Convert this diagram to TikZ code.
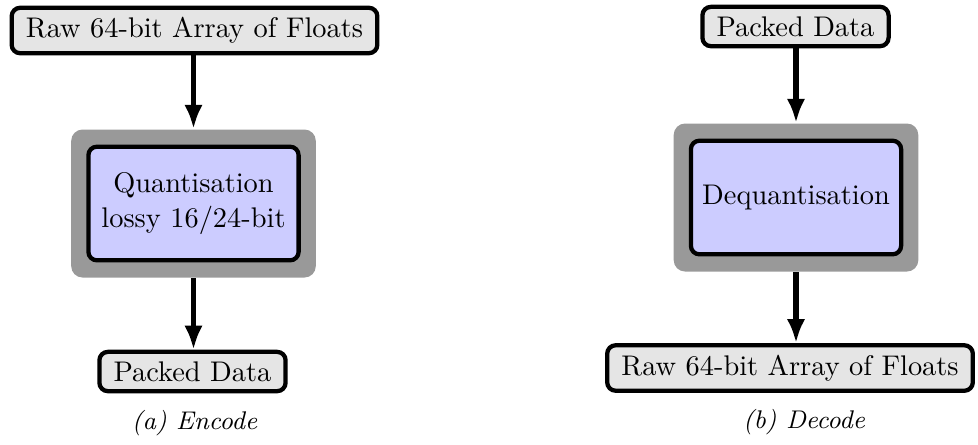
\documentclass[tikz,border=0pt]{standalone}
\usepackage{tikz}
\usetikzlibrary{arrows.meta,positioning,fit,backgrounds}

\begin{document}
\begin{tikzpicture}[x=0.352pt,y=0.352pt]
        \tikzstyle{data}=[draw=black, line width=1.5pt, fill=gray!20, rounded corners=3pt, inner xsep=5pt, inner ysep=3.4pt]
        \tikzstyle{stage}=[draw=black, line width=1.5pt, fill=blue!20, rounded corners=3pt, align=center, minimum width=74pt, minimum height=40pt]
        \tikzstyle{frame}=[fill=gray!80, rounded corners=4pt, inner sep=5.3pt]
        \tikzstyle{flow}=[line width=1.8pt, -{Latex[length=8.5pt,width=6.5pt]}]
        \tikzstyle{subcap}=[font=\small\itshape]
        \useasboundingbox (0,0) rectangle (978,-444);
        % (a) encode
        \node [data] (rawin) at (194.5,-30.5) {Raw 64-bit Array of Floats};
        \node [stage] (quant) at (193.5,-203.5) {Quantisation\\lossy 16/24-bit};
        \node [data] (packedout) at (192.5,-371.5) {Packed Data};
        \node [subcap] (capa) at (194.5,-423) {(a) Encode};
        % (b) decode
        \node [data] (packedin) at (795.5,-26.5) {Packed Data};
        \node [stage] (dequant) at (796,-197.5) {Dequantisation};
        \node [data] (rawout) at (790,-368) {Raw 64-bit Array of Floats};
        \node [subcap] (capb) at (804,-422) {(b) Decode};
        \begin{scope}[on background layer]
          \node [frame, fit=(quant)] (quantframe) {};
          \node [frame, fit=(dequant)] (dequantframe) {};
        \end{scope}
        \draw [flow] (quantframe.north |- rawin.south) -- (quantframe.north);
        \draw [flow] (quantframe.south) -- (quantframe.south |- packedout.north);
        \draw [flow] (dequantframe.north |- packedin.south) -- (dequantframe.north);
        \draw [flow] (dequantframe.south) -- (dequantframe.south |- rawout.north);
\end{tikzpicture}
\end{document}
